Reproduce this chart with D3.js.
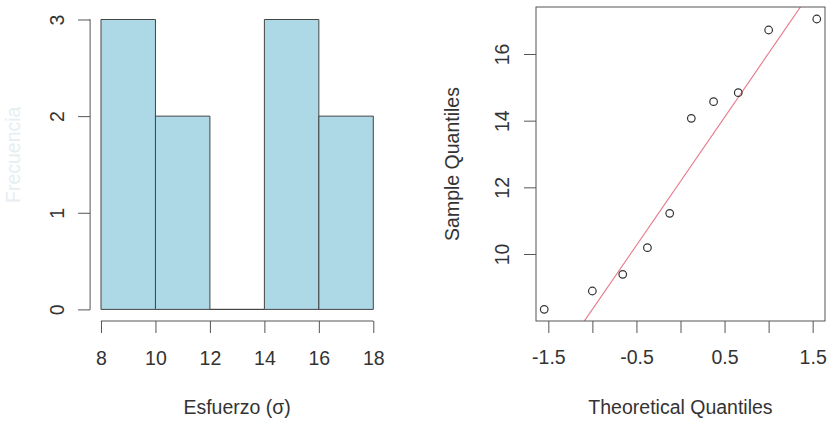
<!DOCTYPE html>
<html><head><meta charset="utf-8">
<script src="https://cdn.jsdelivr.net/npm/d3@7"></script>
<style>body{margin:0;background:#fff}svg{display:block;font-family:"Liberation Sans",Arial,sans-serif}</style>
</head><body><svg id="c" width="828" height="422"></svg>
<script>
// sample data (sorted)
const sampleValues = [8.34, 8.89, 9.39, 10.19, 11.22, 14.07, 14.57, 14.84, 16.72, 17.05];
const histBreaks = [8, 10, 12, 14, 16, 18];
const histYTicks = [0, 1, 2, 3];
const qqXTicks = [-1.5, -1, -0.5, 0, 0.5, 1, 1.5];
const qqXTickLabels = ["-1.5", "", "-0.5", "", "0.5", "", "1.5"];
const qqYTicks = [10, 12, 14, 16];
const histXLabel = "Esfuerzo (σ)";
const histYLabel = "Frecuencia";
const qqXLabel = "Theoretical Quantiles";
const qqYLabel = "Sample Quantiles";

const svg = d3.select("#c");
const FS = 19.5, axisCol = "#555", textCol = "#333", tickLen = 12;

// ---------- Histogram ----------
const bins = d3.bin().domain([histBreaks[0], histBreaks[histBreaks.length-1]]).thresholds(histBreaks.slice(1,-1))(sampleValues);
const hx = d3.scaleLinear().domain([7.6, 18.4]).range([90.1, 384.2]);
const hy = d3.scaleLinear().domain([-0.12, 3.12]).range([321, 19.5-0.12*96.67]);
const hg = svg.append("g");
hg.selectAll("path.bar").data(bins).join("path").attr("class", "bar")
  .attr("d", d => `M${hx(d.x0)},${hy(0)}V${hy(d.length)}H${hx(d.x1)}V${hy(0)}Z`)
  .attr("fill", "#ADD8E6").attr("stroke", "#444").attr("stroke-width", 1);

// y axis
const hyAxis = hg.append("g").attr("transform", `translate(${hx(7.6)},0)`)
  .call(d3.axisLeft(hy).tickValues(histYTicks).tickSize(tickLen).tickSizeOuter(0).tickFormat(d3.format("d")));
hyAxis.select(".domain").attr("d", `M-0.5,${hy(0)}H0V${hy(3)}H-0.5`);
hyAxis.selectAll(".tick text").attr("transform", "rotate(-90)").attr("x", 0).attr("y", -33)
  .attr("dy", "0.35em").attr("text-anchor", "middle");
// x axis
const hxAxis = hg.append("g").attr("transform", `translate(0,${hy(-0.12)})`)
  .call(d3.axisBottom(hx).tickValues(histBreaks).tickSize(tickLen).tickSizeOuter(0).tickFormat(d3.format("d")));
hxAxis.select(".domain").attr("d", `M${hx(8)},0.5V0H${hx(18)}V0.5`);
hxAxis.selectAll(".tick text").attr("y", 37).attr("dy", "0.35em");
hg.append("text").attr("x", (hx(7.6)+hx(18.4))/2).attr("y", 407).attr("dy", "0.35em")
  .attr("text-anchor", "middle").attr("fill", textCol).attr("font-size", FS).text(histXLabel);
hg.append("text").attr("transform", `translate(13,${hy(1.6)}) rotate(-90)`).attr("dy", "0.35em")
  .attr("text-anchor", "middle").attr("fill", "#e6eef2").attr("font-size", FS).text(histYLabel);

// ---------- QQ plot ----------
const n = sampleValues.length, a = n <= 10 ? 3/8 : 1/2;
// inverse normal CDF (Acklam)
function qnorm(p){
  const A=[-39.6968302866538,220.946098424521,-275.928510446969,138.357751867269,-30.6647980661472,2.50662827745924],
        B=[-54.4760987982241,161.585836858041,-155.698979859887,66.8013118877197,-13.2806815528857],
        C=[-0.00778489400243029,-0.322396458041136,-2.40075827716184,-2.54973253934373,4.37466414146497,2.93816398269878],
        D=[0.00778469570904146,0.32246712907004,2.445134137143,3.75440866190742];
  let q,r;
  if(p<0.02425){q=Math.sqrt(-2*Math.log(p));return (((((C[0]*q+C[1])*q+C[2])*q+C[3])*q+C[4])*q+C[5])/((((D[0]*q+D[1])*q+D[2])*q+D[3])*q+1);}
  if(p>1-0.02425){q=Math.sqrt(-2*Math.log(1-p));return -(((((C[0]*q+C[1])*q+C[2])*q+C[3])*q+C[4])*q+C[5])/((((D[0]*q+D[1])*q+D[2])*q+D[3])*q+1);}
  q=p-0.5;r=q*q;return (((((A[0]*r+A[1])*r+A[2])*r+A[3])*r+A[4])*r+A[5])*q/(((((B[0]*r+B[1])*r+B[2])*r+B[3])*r+B[4])*r+1);
}
const pts = sampleValues.map((v,i) => ({t: qnorm((i+1-a)/(n+1-2*a)), s: v}));
const qx = d3.scaleLinear().domain([-1.64, 1.64]).range([536, 825]);
const qy = d3.scaleLinear().domain([7.99, 17.41]).range([321, 7]);
const qg = svg.append("g");
qg.append("clipPath").attr("id", "qclip").append("rect")
  .attr("x", 536).attr("y", 7).attr("width", 289).attr("height", 314);
// qqline through quartiles
const q1 = d3.quantile(sampleValues, 0.25), q3 = d3.quantile(sampleValues, 0.75);
const z1 = qnorm(0.25), z3 = qnorm(0.75);
const slope = (q3 - q1) / (z3 - z1), icpt = q1 - slope * z1;
qg.append("line").attr("clip-path", "url(#qclip)")
  .attr("x1", qx(-1.64)).attr("y1", qy(icpt + slope*-1.64))
  .attr("x2", qx(1.64)).attr("y2", qy(icpt + slope*1.64))
  .attr("stroke", "#e8788a").attr("stroke-width", 1.1);
qg.selectAll("circle").data(pts).join("circle")
  .attr("cx", d => qx(d.t)).attr("cy", d => qy(d.s)).attr("r", 3.8)
  .attr("fill", "none").attr("stroke", "#333").attr("stroke-width", 1.2);
qg.append("rect").attr("x", 536).attr("y", 7).attr("width", 289).attr("height", 314)
  .attr("fill", "none").attr("stroke", axisCol).attr("stroke-width", 1);
const qxAxis = qg.append("g").attr("transform", `translate(0,321)`)
  .call(d3.axisBottom(qx).tickValues(qqXTicks).tickSize(tickLen).tickSizeOuter(0).tickFormat((d,i) => qqXTickLabels[i]));
qxAxis.select(".domain").remove();
qxAxis.selectAll(".tick text").attr("y", 36).attr("dy", "0.35em");
const qyAxis = qg.append("g").attr("transform", `translate(536,0)`)
  .call(d3.axisLeft(qy).tickValues(qqYTicks).tickSize(tickLen).tickSizeOuter(0).tickFormat(d3.format("d")));
qyAxis.select(".domain").remove();
qyAxis.selectAll(".tick text").attr("transform", "rotate(-90)").attr("x", 0).attr("y", -34)
  .attr("dy", "0.35em").attr("text-anchor", "middle");
qg.append("text").attr("x", (536+825)/2).attr("y", 407).attr("dy", "0.35em")
  .attr("text-anchor", "middle").attr("fill", textCol).attr("font-size", FS).text(qqXLabel);
qg.append("text").attr("transform", `translate(452,164) rotate(-90)`).attr("dy", "0.35em")
  .attr("text-anchor", "middle").attr("fill", textCol).attr("font-size", FS).text(qqYLabel);

// common axis styling
svg.selectAll(".tick line").attr("stroke", axisCol);
svg.selectAll(".domain").attr("stroke", axisCol);
svg.selectAll(".tick text").attr("fill", textCol).attr("font-size", FS).attr("font-family", "'Liberation Sans',Arial,sans-serif");
</script></body></html>
